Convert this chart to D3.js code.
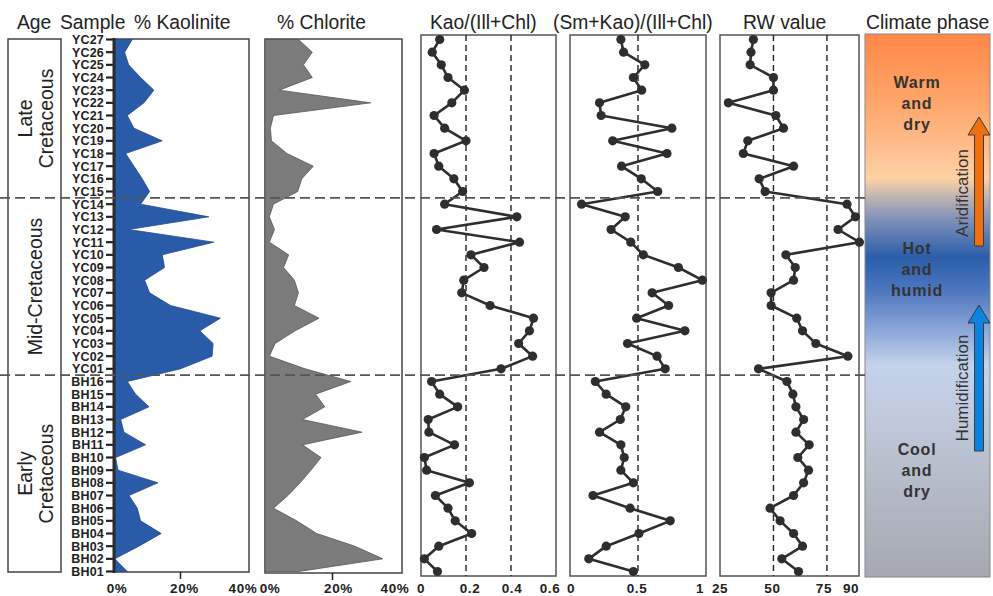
<!DOCTYPE html>
<html>
<head>
<meta charset="utf-8">
<script src="https://cdn.jsdelivr.net/npm/d3@7"></script>
<style>
  body { margin: 0; background: #fff; }
  svg { display: block; font-family: Arial, "Liberation Sans", sans-serif; }
</style>
</head>
<body>
<svg id="chart" width="993" height="596"></svg>
<script>
// sample ids, top (youngest) to bottom
const samples = ['YC27','YC26','YC25','YC24','YC23','YC22','YC21','YC20','YC19','YC18','YC17','YC16','YC15','YC14',
  'YC13','YC12','YC11','YC10','YC09','YC08','YC07','YC06','YC05','YC04','YC03','YC02','YC01',
  'BH16','BH15','BH14','BH13','BH12','BH11','BH10','BH09','BH08','BH07','BH06','BH05','BH04','BH03','BH02','BH01'];

// % kaolinite
const kaolinite = [5.5,3.2,4.4,8,12,9,4,6,14.5,3.5,6,8.5,10.7,8,
  28.5,4.4,30,14.5,15.2,9.2,10.7,17,32,25.8,29.8,29.5,20,
  4,6.5,10.5,2,3,9.5,0.5,1.2,13.2,4.5,7,8,14.2,7.5,0.2,4];
// % chlorite
const chlorite = [9.9,14,11.4,14,4.2,31.3,2.5,1.6,1.9,6.5,14.3,10.9,9.7,2.5,
  1.3,2.8,1.3,7,5.5,8.7,9.9,8.7,16,8.9,3,1.3,11.9,
  25.4,15,17.7,11.1,28.7,11.1,16.6,13.6,10.4,6.8,2.5,9.4,15.3,26.6,34.9,10];
// Kao/(Ill+Chl)
const kaoRatio = [0.083,0.05,0.09,0.12,0.193,0.137,0.058,0.105,0.2,0.058,0.079,0.146,0.185,0.105,
  0.426,0.069,0.438,0.222,0.28,0.19,0.181,0.307,0.5,0.482,0.434,0.496,0.356,
  0.047,0.083,0.163,0.032,0.035,0.149,0.015,0.025,0.215,0.064,0.12,0.152,0.225,0.079,0.015,0.073];
// (Sm+Kao)/(Ill+Chl)
const smRatio = [0.374,0.394,0.55,0.466,0.527,0.217,0.229,0.749,0.314,0.713,0.379,0.524,0.645,0.085,
  0.406,0.302,0.447,0.539,0.797,0.973,0.604,0.725,0.49,0.845,0.423,0.64,0.7,
  0.186,0.266,0.41,0.37,0.217,0.374,0.399,0.374,0.466,0.169,0.442,0.737,0.507,0.266,0.138,0.466];
// RW value
const rwValue = [40.6,39.5,39.1,50,50,28.9,51.1,54.7,38,35.9,59.4,43.3,46.1,84.4,
  88.3,80.2,90.2,55.8,60.2,59.4,48.9,48.9,60.9,63.6,69.8,84.8,43,
  56.3,59.1,60.5,64.1,60.5,66.7,61.4,66.4,64.1,59.4,48.4,53.1,59.4,63.6,53.9,61.7];

const ages = [
  {name: ['Late', 'Cretaceous'], from: 'YC27', to: 'YC15'},
  {name: ['Mid-Cretaceous'], from: 'YC14', to: 'YC01'},
  {name: ['Early', 'Cretaceous'], from: 'BH16', to: 'BH01'}
];
const phases = [['Warm','and','dry'], ['Hot','and','humid'], ['Cool','and','dry']];

const svg = d3.select('#chart');
const ink = '#2e2e2e';

const y = d3.scalePoint().domain(samples).range([39.5, 571.5]);
const step = y.step();
const boundaries = [y('YC15') + step / 2, y('YC01') + step / 2];

// headers
const headers = [
  ['Age', 17], ['Sample', 60], ['% Kaolinite', 134], ['% Chlorite', 277],
  ['Kao/(Ill+Chl)', 430], ['(Sm+Kao)/(Ill+Chl)', 553], ['RW value', 743], ['Climate phase', 866]
];
svg.selectAll('.hdr').data(headers).enter().append('text')
  .attr('class', 'hdr')
  .attr('x', d => d[1]).attr('y', 29)
  .style('font-size', '19.3px').style('fill', '#222')
  .text(d => d[0]);

// age column
const ageG = svg.append('g');
ageG.append('rect').attr('x', 8).attr('y', 39).attr('width', 53).attr('height', 533)
  .style('fill', 'none').style('stroke', '#444').style('stroke-width', 1.5);
ages.forEach(a => {
  const cy = ((a.from === 'YC27' ? 39 : y(a.from) - step / 2) + (a.to === 'BH01' ? 572 : y(a.to) + step / 2)) / 2;
  const t = ageG.append('text')
    .attr('transform', `translate(35,${cy}) rotate(-90)`)
    .attr('text-anchor', 'middle')
    .style('font-size', '19.5px').style('fill', '#222');
  a.name.forEach((n, i) => {
    t.append('tspan').attr('x', 0)
      .attr('dy', i === 0 ? (a.name.length === 1 ? 7 : -3) : 21)
      .text(n);
  });
});

// sample labels + kaolinite axis
svg.selectAll('.smp').data(samples).enter().append('text')
  .attr('class', 'smp')
  .attr('x', 104).attr('y', d => y(d) + 4.5)
  .attr('text-anchor', 'end')
  .style('font-size', '12.5px').style('font-weight', 'bold').style('fill', '#222')
  .style('letter-spacing', '0.2px')
  .text(d => d);
svg.selectAll('.stk').data(samples).enter().append('line')
  .attr('x1', 106).attr('x2', 114).attr('y1', d => y(d)).attr('y2', d => y(d))
  .style('stroke', '#222').style('stroke-width', 2.2);

// area panel helper
function areaPanel(vals, x0, x1, top, bottom, fill, stroke) {
  const x = d3.scaleLinear().domain([0, 40]).range([x0, x1]);
  const g = svg.append('g');
  g.append('rect').attr('x', x0).attr('y', top).attr('width', x1 - x0 + 2).attr('height', bottom - top)
    .style('fill', '#fff').style('stroke', '#444').style('stroke-width', 1.5);
  const area = d3.area()
    .x0(x(0)).x1((d, i) => x(vals[i]))
    .y(d => y(d));
  g.append('path').datum(samples).attr('d', area)
    .style('fill', fill).style('stroke', stroke).style('stroke-width', 0.8);
  g.append('line').attr('x1', x(20)).attr('x2', x(20)).attr('y1', bottom).attr('y2', bottom + 7)
    .style('stroke', '#222').style('stroke-width', 1.5);
  return x;
}

const xK = areaPanel(kaolinite, 114, 247, 39, 572, '#2a5ba8', '#22498a');
svg.append('line').attr('x1', 114).attr('x2', 114).attr('y1', 38).attr('y2', 573)
  .style('stroke', '#2a2a2a').style('stroke-width', 3);
const xC = areaPanel(chlorite, 265, 400, 39, 573, '#7b7b7b', '#555');

// line panel helper
function linePanel(vals, domain, x0, x1, refs) {
  const x = d3.scaleLinear().domain(domain).range([x0, x1]);
  const g = svg.append('g');
  g.append('rect').attr('x', x0).attr('y', 35).attr('width', x1 - x0).attr('height', 541)
    .style('fill', '#fff').style('stroke', '#555').style('stroke-width', 1.5);
  g.selectAll('.ref').data(refs).enter().append('line')
    .attr('x1', d => x(d)).attr('x2', d => x(d)).attr('y1', 35).attr('y2', 576)
    .style('stroke', '#222').style('stroke-width', 1.4).style('stroke-dasharray', '6,4');
  const line = d3.line().x((d, i) => x(vals[i])).y(d => y(d));
  g.append('path').datum(samples).attr('d', line)
    .style('fill', 'none').style('stroke', ink).style('stroke-width', 2.6).style('stroke-linejoin', 'round');
  g.selectAll('circle').data(samples).enter().append('circle')
    .attr('cx', (d, i) => x(vals[i])).attr('cy', d => y(d)).attr('r', 4.6)
    .style('fill', ink);
  return x;
}

const xR = linePanel(kaoRatio, [0, 0.6], 421, 556, [0.2, 0.4]);
const xS = linePanel(smRatio, [0, 1], 570, 706, [0.5]);
const xW = linePanel(rwValue, [25, 90], 720, 859, [50, 75]);

// climate column
const grad = svg.append('defs').append('linearGradient')
  .attr('id', 'clim').attr('gradientUnits', 'userSpaceOnUse')
  .attr('x1', 0).attr('x2', 0).attr('y1', 34).attr('y2', 577);
const stops = [
  [34, '#ff8847'], [100, '#ffa469'], [150, '#ffbf8e'], [178, '#ffd2a4'], [194, '#c9b9b0'],
  [216, '#8896b9'], [257, '#2a5daa'], [290, '#4d76bf'], [335, '#94acdb'], [365, '#c4d3eb'],
  [420, '#bfc9da'], [577, '#a5a8af']
];
grad.selectAll('stop').data(stops).enter().append('stop')
  .attr('offset', d => (d[0] - 34) / (577 - 34))
  .attr('stop-color', d => d[1]);
svg.append('rect').attr('x', 865).attr('y', 34).attr('width', 125).attr('height', 543)
  .style('fill', 'url(#clim)').style('stroke', '#888').style('stroke-width', 1);

const phaseY = [82, 248, 449];
phases.forEach((p, k) => {
  const t = svg.append('text').attr('text-anchor', 'middle')
    .style('font-size', '16px').style('font-weight', 'bold').style('fill', '#333')
    .style('letter-spacing', '0.8px');
  p.forEach((w, i) => {
    t.append('tspan').attr('x', 917).attr('y', phaseY[k] + 6 + i * 21).text(w);
  });
});

// arrows
function arrow(x, tip, bottom, color, label, labelY) {
  const hw = 11, base = tip + 18, sw = 4.5;
  svg.append('path')
    .attr('d', `M${x - sw},${bottom} L${x - sw},${base} L${x - hw},${base} L${x},${tip} L${x + hw},${base} L${x + sw},${base} L${x + sw},${bottom} Z`)
    .style('fill', color).style('stroke', '#3a3a3a').style('stroke-width', 1);
  svg.append('text')
    .attr('transform', `translate(968,${labelY}) rotate(-90)`)
    .attr('text-anchor', 'middle')
    .style('font-size', '17px').style('fill', '#333')
    .text(label);
}
arrow(979, 117, 246, '#f07010', 'Aridification', 193);
arrow(979, 305, 451, '#0a84e0', 'Humidification', 388);

// age boundaries
svg.selectAll('.bnd').data(boundaries).enter().append('line')
  .attr('x1', 0).attr('x2', 865).attr('y1', d => d).attr('y2', d => d)
  .style('stroke', '#555').style('stroke-width', 1.6).style('stroke-dasharray', '10,5');

// bottom tick labels
const ticks = [
  [xK, 0, '0%', 3], [xK, 20, '20%', 4], [xK, 40, '40%', -4],
  [xC, 0, '0%', 5], [xC, 20, '20%', 6], [xC, 40, '40%', -5],
  [xR, 0, '0', 0], [xR, 0.2, '0.2', 4], [xR, 0.4, '0.4', 1], [xR, 0.6, '0.6', -6],
  [xS, 0, '0', 1], [xS, 0.5, '0.5', -1], [xS, 1, '1', -6],
  [xW, 25, '25', 0], [xW, 50, '50', -1], [xW, 75, '75', -3], [xW, 90, '90', -8]
];
svg.selectAll('.tkl').data(ticks).enter().append('text')
  .attr('x', d => d[0](d[1]) + d[3]).attr('y', 593)
  .attr('text-anchor', 'middle')
  .style('font-size', '13.5px').style('font-weight', 'bold').style('fill', '#222')
  .style('letter-spacing', '0.6px')
  .text(d => d[2]);
</script>
</body>
</html>
